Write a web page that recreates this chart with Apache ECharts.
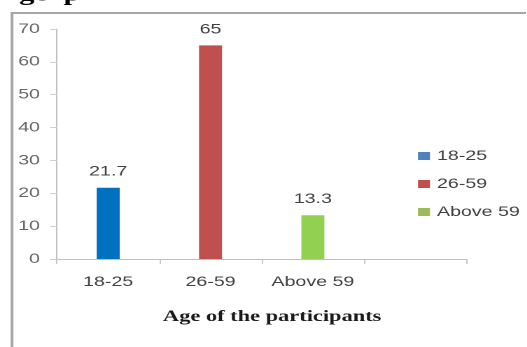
<!DOCTYPE html>
<html>
<head>
<meta charset="utf-8">
<script src="https://cdn.jsdelivr.net/npm/echarts@6/dist/echarts.min.js"></script>
<style>
  html, body { margin: 0; padding: 0; background: #fff; overflow: hidden; }
  #wrap { width: 527px; height: 347px; overflow: hidden; }
  #chart { height: 347px; transform-origin: 0 0; }
</style>
</head>
<body>
<div id="wrap"><div id="chart"></div></div>
<script>
// Age groups and the share of participants in each (%)
var categories = ['18-25', '26-59', 'Above 59'];
var values = [21.7, 65, 13.3];
var barColors = ['#0070C0', '#C0504D', '#92D050'];
var legendColors = ['#4F81BD', '#C0504D', '#9BBB59'];
var yTicks = { min: 0, max: 70, interval: 10 };
var axisTitle = 'Age of the participants';

// The whole figure is drawn horizontally widened, like a stretched scan.
var SX = 1.4;
var W = 527 / SX;
var el = document.getElementById('chart');
el.style.width = W + 'px';
el.style.transform = 'scaleX(' + SX + ')';

function px(x) { return x / SX; }

var chart = echarts.init(el, null, { renderer: 'canvas', devicePixelRatio: 2 });

var sansFamily = 'Liberation Sans, Arial, sans-serif';

var series = categories.map(function (name, i) {
  var data = categories.map(function (_, j) { return j === i ? values[i] : '-'; });
  return {
    name: name,
    type: 'bar',
    data: data,
    barWidth: px(23),
    barGap: '-100%',
    itemStyle: { color: barColors[i] },
    label: {
      show: true,
      position: 'top',
      distance: 9,
      color: '#404040',
      fontFamily: sansFamily,
      fontSize: 14
    }
  };
});

chart.setOption({
  animation: false,
  grid: { left: px(57), right: px(60), top: 29, bottom: 88, containLabel: false },
  legend: {
    orient: 'vertical',
    left: px(418),
    top: 148,
    padding: 0,
    icon: 'rect',
    itemWidth: px(12),
    itemHeight: 8,
    itemGap: 12,
    textStyle: { color: '#404040', fontFamily: sansFamily, fontSize: 14, lineHeight: 16 },
    data: categories.map(function (name, i) {
      return { name: name, itemStyle: { color: legendColors[i] } };
    })
  },
  xAxis: {
    type: 'category',
    data: categories.concat(['']),
    boundaryGap: true,
    axisLine: { lineStyle: { color: '#bfbfbf', width: 1 } },
    axisTick: { show: true, length: 5, interval: 0, lineStyle: { color: '#c8c8c8' } },
    axisLabel: { color: '#404040', fontFamily: sansFamily, fontSize: 14, margin: 16, interval: 0 },
    splitLine: { show: false }
  },
  yAxis: {
    type: 'value',
    min: yTicks.min,
    max: yTicks.max,
    interval: yTicks.interval,
    axisLine: { show: true, lineStyle: { color: '#bfbfbf', width: 1 } },
    axisTick: { show: true, length: 5, lineStyle: { color: '#d0d0d0' } },
    axisLabel: { color: '#666666', fontFamily: sansFamily, fontSize: 14, margin: px(17) },
    splitLine: { show: false }
  },
  series: series,
  graphic: [
    {
      type: 'polyline',
      shape: { points: [[px(12), 360], [px(12), 13], [W + 5, 13]] },
      style: { stroke: '#a6a6a6', lineWidth: 2, fill: null },
      silent: true
    },
    {
      type: 'text',
      x: px(163),
      y: 317,
      style: {
        text: axisTitle,
        fill: '#1a1a1a',
        font: 'bold 16px "Liberation Serif", "Times New Roman", serif',
        textVerticalAlign: 'middle'
      },
      silent: true
    },
    {
      type: 'text',
      x: px(19),
      y: -5,
      style: {
        text: 'ge  p',
        fill: '#000',
        font: 'bold 22px "Liberation Serif", "Times New Roman", serif',
        textVerticalAlign: 'middle'
      },
      silent: true
    }
  ]
});
</script>
</body>
</html>
